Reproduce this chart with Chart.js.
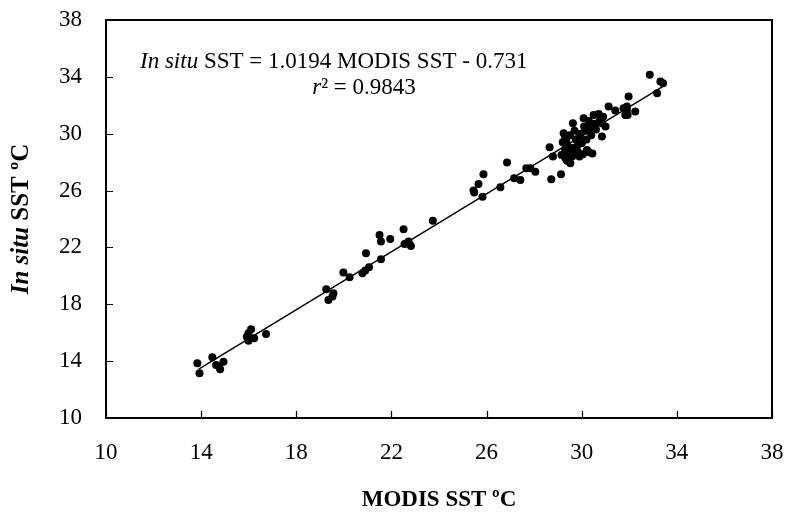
<!DOCTYPE html>
<html>
<head>
<meta charset="utf-8">
<script src="https://cdn.jsdelivr.net/npm/chart.js@4/dist/chart.umd.min.js"></script>
<style>
  html, body { margin: 0; padding: 0; background: #ffffff; }
  #wrap { width: 786px; height: 521px; position: relative; }
</style>
</head>
<body>
<div id="wrap"><canvas id="c" width="786" height="521"></canvas></div>
<script>
// ---- Data ----
const lowGroupX  = [13.84, 13.93, 14.47, 14.63, 14.80, 14.94, 14.75, 15.92, 15.99, 16.10, 15.99, 16.23, 16.73];
const lowGroupY  = [13.85, 13.15, 14.27, 13.73, 13.43, 13.96, 13.65, 15.72, 15.96, 16.24, 15.44, 15.61, 15.91];

const midGroupX  = [19.26, 19.35, 19.52, 19.56, 19.98, 20.24, 20.78, 20.90, 21.06, 20.93, 21.56, 21.50, 21.56, 21.95, 22.51, 22.55, 22.72, 22.82, 22.65, 23.74];
const midGroupY  = [19.06, 18.30, 18.54, 18.77, 20.23, 19.90, 20.18, 20.37, 20.60, 21.59, 21.17, 22.88, 22.41, 22.60, 23.28, 22.24, 22.41, 22.10, 22.30, 23.88];

const warmGroupX = [25.45, 25.48, 25.66, 25.87, 25.83, 26.58, 26.86, 27.16, 27.42, 27.67, 27.84, 28.05, 28.65, 28.79, 28.72, 29.13];
const warmGroupY = [26.00, 25.86, 26.47, 27.15, 25.57, 26.23, 27.97, 26.87, 26.75, 27.57, 27.57, 27.33, 29.05, 28.39, 26.80, 27.15];

const clusterX = [29.24, 29.30, 29.35, 29.40, 29.30, 29.45, 29.31, 29.52, 29.60, 29.50, 29.63, 29.70, 29.75, 29.80, 29.85, 29.90, 29.95, 30.00, 30.08, 30.10, 30.15, 30.22, 30.20, 30.30, 30.35, 30.40, 30.45, 30.50, 30.55, 30.60, 30.71, 30.75, 30.85, 30.85, 30.90, 31.00, 31.13, 31.41, 29.15, 29.20, 29.38, 29.60, 29.70, 30.05, 29.90, 30.30];
const clusterY = [30.03, 29.80, 29.50, 29.20, 28.90, 28.60, 28.30, 27.92, 28.40, 29.90, 30.74, 30.20, 29.60, 29.10, 28.70, 28.40, 30.00, 29.33, 31.09, 30.50, 30.20, 28.86, 29.60, 30.90, 30.40, 29.90, 28.60, 31.32, 30.70, 30.30, 31.39, 30.90, 30.74, 29.80, 31.20, 30.50, 31.92, 31.63, 28.50, 29.40, 28.10, 29.00, 28.80, 28.55, 29.80, 28.70];

const highGroupX = [31.76, 31.83, 31.90, 31.93, 31.90, 31.97, 32.25, 32.86, 33.17, 33.31, 33.42];
const highGroupY = [31.80, 31.32, 31.67, 31.32, 31.91, 32.61, 31.56, 34.14, 32.85, 33.67, 33.55];

// Regression line end points (In situ SST = 1.0194 MODIS SST - 0.731)
const fitX = [13.90, 33.40];
const fitY = [13.44, 33.32];

const tickValues = [10, 14, 18, 22, 26, 30, 34, 38];

const eqLine1Italic = "In situ";
const eqLine1Rest = " SST = 1.0194 MODIS SST - 0.731";
const eqLine2Italic = "r";
const eqLine2Rest = "\u00B2 = 0.9843";
const xTitle = "MODIS SST \u00BAC";
const yTitleItalic = "In situ";
const yTitleRest = " SST \u00BAC";

// ---- Build datasets ----
function zip(xs, ys) { return xs.map((x, i) => ({ x: x, y: ys[i] })); }
const allPoints = [].concat(
  zip(lowGroupX, lowGroupY),
  zip(midGroupX, midGroupY),
  zip(warmGroupX, warmGroupY),
  zip(clusterX, clusterY),
  zip(highGroupX, highGroupY)
);

const SERIF = "'Liberation Serif', 'Times New Roman', serif";
const FS = 23;
const YFS = 25;

const decorPlugin = {
  id: 'decor',
  afterDraw(chart) {
    const ctx = chart.ctx;
    const a = chart.chartArea;
    const xs = chart.scales.x, ys = chart.scales.y;
    ctx.save();
    // frame
    ctx.strokeStyle = '#000';
    ctx.lineWidth = 2;
    ctx.strokeRect(a.left, a.top, a.right - a.left, a.bottom - a.top);
    // inward ticks
    ctx.lineWidth = 1.2;
    ctx.beginPath();
    tickValues.forEach(v => {
      const px = Math.round(xs.getPixelForValue(v)) + 0.5;
      ctx.moveTo(px, a.bottom);
      ctx.lineTo(px, a.bottom - 7);
      const py = Math.round(ys.getPixelForValue(v)) + 0.5;
      ctx.moveTo(a.left, py);
      ctx.lineTo(a.left + 7, py);
    });
    ctx.stroke();

    ctx.fillStyle = '#000';
    ctx.textBaseline = 'middle';
    // equation line 1
    ctx.textAlign = 'left';
    ctx.font = "italic " + FS + "px " + SERIF;
    let x0 = 140;
    ctx.fillText(eqLine1Italic, x0, 62);
    let w = ctx.measureText(eqLine1Italic).width;
    ctx.font = FS + "px " + SERIF;
    ctx.fillText(eqLine1Rest, x0 + w, 62);
    // equation line 2 (centred)
    ctx.font = "italic " + FS + "px " + SERIF;
    const wr = ctx.measureText(eqLine2Italic).width;
    ctx.font = FS + "px " + SERIF;
    const wrest = ctx.measureText(eqLine2Rest).width;
    x0 = 364 - (wr + wrest) / 2;
    ctx.font = "italic " + FS + "px " + SERIF;
    ctx.fillText(eqLine2Italic, x0, 88);
    ctx.font = FS + "px " + SERIF;
    ctx.fillText(eqLine2Rest, x0 + wr, 88);

    // x title
    ctx.font = "bold " + FS + "px " + SERIF;
    ctx.textAlign = 'center';
    ctx.fillText(xTitle, (a.left + a.right) / 2, 500);

    // y title (rotated)
    ctx.translate(22, (a.top + a.bottom) / 2);
    ctx.rotate(-Math.PI / 2);
    ctx.font = "bold italic " + YFS + "px " + SERIF;
    const w1 = ctx.measureText(yTitleItalic).width;
    ctx.font = "bold " + YFS + "px " + SERIF;
    const w2 = ctx.measureText(yTitleRest).width;
    const start = -(w1 + w2) / 2;
    ctx.textAlign = 'left';
    ctx.font = "bold italic " + YFS + "px " + SERIF;
    ctx.fillText(yTitleItalic, start, 0);
    ctx.font = "bold " + YFS + "px " + SERIF;
    ctx.fillText(yTitleRest, start + w1, 0);
    ctx.restore();
  }
};

function noOverflow(scale) {
  scale.paddingTop = 0; scale.paddingBottom = 0;
  scale.paddingLeft = 0; scale.paddingRight = 0;
}

new Chart(document.getElementById('c'), {
  type: 'scatter',
  data: {
    datasets: [
      {
        label: 'Fit',
        data: zip(fitX, fitY),
        showLine: true,
        borderColor: '#000',
        borderWidth: 1.5,
        pointRadius: 0,
        fill: false,
        order: 2
      },
      {
        label: 'Observations',
        data: allPoints,
        backgroundColor: '#000',
        borderColor: '#000',
        borderWidth: 0,
        pointRadius: 4,
        order: 1
      }
    ]
  },
  options: {
    responsive: false,
    animation: false,
    layout: { padding: { left: 0, right: 14, top: 20, bottom: 0 } },
    plugins: {
      legend: { display: false },
      tooltip: { enabled: false }
    },
    scales: {
      x: {
        type: 'linear',
        min: 10, max: 38,
        afterBuildTicks(scale) { scale.ticks = tickValues.map(v => ({ value: v })); },
        afterFit(scale) { scale.height = 103; noOverflow(scale); },
        grid: { display: false, drawTicks: false },
        border: { display: false },
        ticks: { color: '#000', font: { family: SERIF, size: FS }, padding: 21, maxRotation: 0 }
      },
      y: {
        type: 'linear',
        min: 10, max: 38,
        afterBuildTicks(scale) { scale.ticks = tickValues.map(v => ({ value: v })); },
        afterFit(scale) { scale.width = 106; noOverflow(scale); },
        grid: { display: false, drawTicks: false },
        border: { display: false },
        ticks: { color: '#000', font: { family: SERIF, size: FS }, padding: 24 }
      }
    }
  },
  plugins: [decorPlugin]
});
</script>
</body>
</html>
